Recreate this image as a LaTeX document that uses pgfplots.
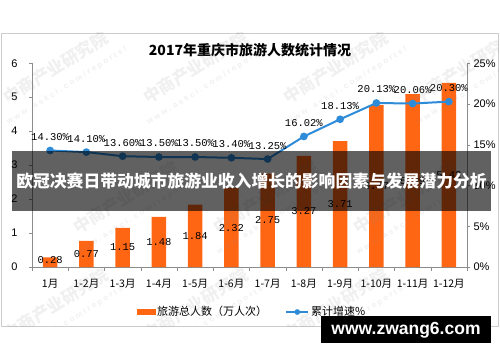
\documentclass[border=0pt]{standalone}
\usepackage{pgfplots}
\pgfplotsset{compat=1.18}
\usepackage{fontspec}
\setmainfont{Noto Sans CJK SC}
\newfontfamily\monof{Liberation Mono}
\newfontfamily\arial{Liberation Sans}
\definecolor{barc}{RGB}{255,102,20}
\definecolor{linec}{RGB}{46,139,216}
\definecolor{axc}{RGB}{140,140,140}

\pgfplotstableread{
x y l
0 0.2 0.28
1 0.385 0.77
2 0.575 1.15
3 0.74 1.48
4 0.92 1.84
5 1.16 2.32
6 1.375 2.75
7 1.635 3.27
8 1.855 3.71
9 2.385 4.77
10 2.545 5.09
11 2.71 5.42
}\barlabels

\pgfplotstableread{
x y
0 0.28
1 0.77
2 1.15
3 1.48
4 1.84
5 2.32
6 2.75
7 3.27
8 3.71
9 4.77
10 5.09
11 5.42
}\bars

\pgfplotstableread{
x y l
0 14.30 14.30
1 14.10 14.10
2 13.60 13.60
3 13.50 13.50
4 13.50 13.50
5 13.40 13.40
6 13.25 13.25
7 16.02 16.02
8 18.13 18.13
9 20.13 20.13
10 20.06 20.06
11 20.30 20.30
}\growth

\begin{document}
\begin{tikzpicture}
\useasboundingbox (0pt,0pt) rectangle (500pt,362pt);
\draw[gray!40] (1.5pt,329pt) rectangle (498.5pt,36pt);
\node[font=\bfseries\fontsize{14}{14}\selectfont] at (250pt,312pt) {2017年重庆市旅游人数统计情况};

\begin{axis}[
  name=main,
  at={(32pt,95pt)}, anchor=south west,
  scale only axis, width=435pt, height=203.7pt,
  xmin=-0.5, xmax=11.5, ymin=0, ymax=6,
  axis x line*=bottom, axis y line*=left,
  axis line style={axc},
  ytick={0,1,...,6},
  xtick={0,...,11},
  xticklabels={1月,1-2月,1-3月,1-4月,1-5月,1-6月,1-7月,1-8月,1-9月,1-10月,1-11月,1-12月},
  minor xtick={-0.5,0.5,...,11.5},
  major x tick style={draw=none},
  minor tick length=4pt,
  major tick length=3pt,
  tick align=outside,
  tick style={axc},
  xticklabel style={font=\fontsize{10.5}{10.5}\selectfont, yshift=-6pt},
  yticklabel style={font=\arial\fontsize{11}{11}\selectfont, xshift=-8pt},
  /pgf/number format/assume math mode=true,
  clip=false,
]
\addplot[ybar, bar width=14.5pt, fill=barc, draw=none] table[x=x,y=y] {\bars};
\addplot[draw=none, mark=none, nodes near coords, point meta=explicit symbolic,
  nodes near coords style={font=\monof\fontsize{10.5}{10.5}\selectfont, anchor=center, text=black}]
  table[x=x,y=y,meta=l] {\barlabels};
\end{axis}

\begin{axis}[
  at={(32pt,95pt)}, anchor=south west,
  scale only axis, width=435pt, height=203.7pt,
  xmin=-0.5, xmax=11.5, ymin=0, ymax=25,
  axis x line=none, axis y line*=right,
  axis line style={axc},
  ytick={0,5,...,25},
  yticklabel={\pgfmathprintnumber{\tick}\%},
  major tick length=3pt,
  tick align=outside,
  tick style={axc},
  yticklabel style={font=\arial\fontsize{11}{11}\selectfont},
  /pgf/number format/assume math mode=true,
  clip=false,
  legend style={at={(0.506,-0.221)}, anchor=center, draw=none, fill=none,
    font=\fontsize{11}{11}\selectfont, legend columns=2,
    /tikz/every even column/.append style={column sep=16pt}},
]
\addlegendimage{legend image code/.code={\fill[barc] (0pt,-2.5pt) rectangle (18pt,2.5pt);}}
\addlegendentry{旅游总人数（万人次）}
\addlegendimage{legend image code/.code={\draw[linec,line width=2pt] (0pt,0pt)--(22pt,0pt); \fill[linec] (11pt,0pt) circle (2.6pt);}}
\addlegendentry{累计增速\%}
\addplot[linec, line width=2pt, mark=*, mark size=2.8pt, mark options={fill=linec},
  nodes near coords={\pgfplotspointmeta\%}, point meta=explicit symbolic,
  nodes near coords style={font=\monof\fontsize{10.5}{10.5}\selectfont, anchor=center, yshift=13.5pt, text=black}]
  table[x=x,y=y,meta=l] {\growth};
\end{axis}

% faint watermarks
\begin{scope}
\clip (1.5pt,329pt) rectangle (498.5pt,36pt);
\foreach \px/\py in {60/287, 200/287, 340/287, 470/287, 130/157, 270/157, 410/157, 60/50, 200/50, 340/50}{
  \node[rotate=32, text=gray, opacity=0.12, align=center, font=\bfseries\fontsize{17}{19}\selectfont] at (\px pt,\py pt)
    {中商产业研究院\\[-2pt]{\arial\fontsize{8}{8}\selectfont w w w . a s k c i . c o m / r e p o r t s /}};
}
\end{scope}

% banner
\fill[black, opacity=0.62] (12pt,211pt) rectangle (491pt,151pt);
\node[text=white, inner sep=0pt, font=\bfseries\fontsize{16.8}{16.8}\selectfont] at (251.5pt,181pt) {欧冠决赛日带动城市旅游业收入增长的影响因素与发展潜力分析};

% site box
\fill[black] (321pt,46pt) rectangle (491pt,19pt);
\node[text=white, font=\arial\bfseries\fontsize{17.5}{17.5}\selectfont] at (406pt,32pt) {www.zwang6.com};
\end{tikzpicture}
\end{document}
